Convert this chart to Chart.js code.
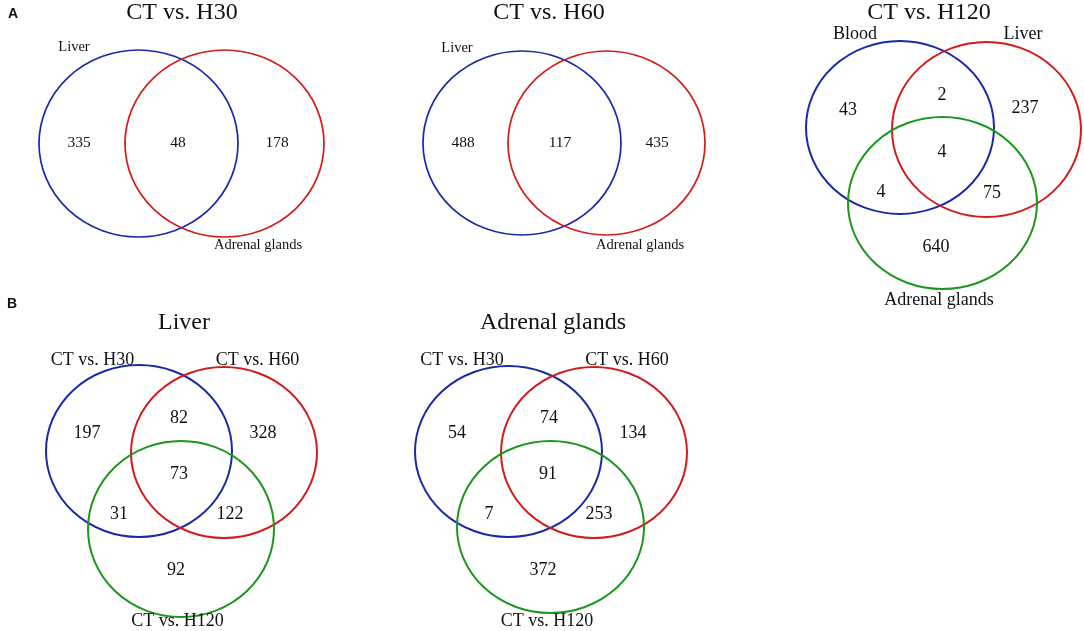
<!DOCTYPE html>
<html>
<head>
<meta charset="utf-8">
<title>Venn diagrams</title>
<script src="https://cdn.jsdelivr.net/npm/chart.js@4.4.1/dist/chart.umd.min.js"></script>
<style>
    html, body { margin: 0; padding: 0; background: #fff; }
    #wrap { width: 1084px; height: 631px; }
</style>
</head>
<body>
<div id="wrap"><canvas id="venn"></canvas></div>
<script>
// region counts
// 2-set order: only first, both, only second
// 3-set order: only first, first+second, only second, all three, first+third, second+third, only third
var panelTitles = ["CT vs. H30", "CT vs. H60", "CT vs. H120", "Liver", "Adrenal glands"];
var h30Sets = ["Liver", "Adrenal glands"];
var h30Counts = [335, 48, 178];
var h60Sets = ["Liver", "Adrenal glands"];
var h60Counts = [488, 117, 435];
var h120Sets = ["Blood", "Liver", "Adrenal glands"];
var h120Counts = [43, 2, 237, 4, 4, 75, 640];
var liverSets = ["CT vs. H30", "CT vs. H60", "CT vs. H120"];
var liverCounts = [197, 82, 328, 73, 31, 122, 92];
var adrenalSets = ["CT vs. H30", "CT vs. H60", "CT vs. H120"];
var adrenalCounts = [54, 74, 134, 91, 7, 253, 372];

// layout (page units, same as the axes)
var setColors = ["#1a2aa4", "#d21c1c", "#1c961c"];
var serif = "'Liberation Serif', 'Times New Roman', serif";

var layout = [
    {
        title: [182, 13],
        circles: [[138.5, 143.5, 99.5, 93.5], [224.5, 143.5, 99.5, 93.5]],
        setPos: [[74, 47], [258, 245]],
        regionPos: [[79, 143], [178, 143], [277, 143]],
        setSize: 14.5, numSize: 15.5, lineW: 1.7
    },
    {
        title: [549, 13],
        circles: [[522, 143, 99, 92], [606.5, 143, 98.5, 92]],
        setPos: [[457, 48], [640, 245]],
        regionPos: [[463, 143], [560, 143], [657, 143]],
        setSize: 14.5, numSize: 15.5, lineW: 1.7
    },
    {
        title: [929, 13],
        circles: [[900, 127.5, 94, 86.5], [986.5, 129.5, 94.5, 87.5], [942.5, 203, 94.5, 86]],
        setPos: [[855, 34], [1023, 34], [939, 300]],
        regionPos: [[848, 110], [942, 95], [1025, 108], [942, 152], [881, 192], [992, 193], [936, 247]],
        setSize: 18, numSize: 18, lineW: 2
    },
    {
        title: [184, 323],
        circles: [[139, 451, 93, 86], [224, 452.5, 93, 85.5], [181, 529, 93, 88]],
        setPos: [[92.5, 360], [257.5, 360], [177.5, 621]],
        regionPos: [[87, 433], [179, 418], [263, 433], [179, 474], [119, 514], [230, 514], [176, 570]],
        setSize: 18, numSize: 18, lineW: 2
    },
    {
        title: [553, 323],
        circles: [[508.5, 451.5, 93.5, 85.5], [594, 452.5, 93, 85.5], [550.5, 527, 93.5, 86]],
        setPos: [[462, 360], [627, 360], [547, 621]],
        regionPos: [[457, 433], [549, 418], [633, 433], [548, 474], [489, 514], [599, 514], [543, 570]],
        setSize: 18, numSize: 18, lineW: 2
    }
];

var panelSets = [h30Sets, h60Sets, h120Sets, liverSets, adrenalSets];
var panelCounts = [h30Counts, h60Counts, h120Counts, liverCounts, adrenalCounts];

var datasets = [];
for (var p = 0; p < layout.length; p++) {
    var pts = [];
    for (var i = 0; i < panelCounts[p].length; i++) {
        pts.push({ x: layout[p].regionPos[i][0], y: layout[p].regionPos[i][1], v: panelCounts[p][i] });
    }
    datasets.push({
        label: panelTitles[p],
        data: pts,
        pointRadius: 0,
        pointHoverRadius: 0,
        showLine: false
    });
}

function drawText(ctx, txt, x, y, font, align) {
    ctx.font = font;
    ctx.fillStyle = "#111";
    ctx.textAlign = align || "center";
    ctx.textBaseline = "middle";
    ctx.fillText(txt, x, y);
}

var vennPlugin = {
    id: "venn",
    afterDatasetsDraw: function (chart) {
        var ctx = chart.ctx;
        var xs = chart.scales.x, ys = chart.scales.y;
        ctx.save();
        for (var p = 0; p < layout.length; p++) {
            var L = layout[p];
            // set ellipses
            for (var c = 0; c < L.circles.length; c++) {
                var e = L.circles[c];
                var px = xs.getPixelForValue(e[0]);
                var py = ys.getPixelForValue(e[1]);
                var rx = Math.abs(xs.getPixelForValue(e[0] + e[2]) - px);
                var ry = Math.abs(ys.getPixelForValue(e[1] + e[3]) - py);
                ctx.beginPath();
                ctx.ellipse(px, py, rx, ry, 0, 0, Math.PI * 2);
                ctx.lineWidth = L.lineW;
                ctx.strokeStyle = setColors[c];
                ctx.stroke();
            }
            // title and set names
            drawText(ctx, panelTitles[p], xs.getPixelForValue(L.title[0]), ys.getPixelForValue(L.title[1]), "24px " + serif);
            for (var s = 0; s < panelSets[p].length; s++) {
                drawText(ctx, panelSets[p][s], xs.getPixelForValue(L.setPos[s][0]), ys.getPixelForValue(L.setPos[s][1]), L.setSize + "px " + serif);
            }
            // region counts at the dataset's points
            var meta = chart.getDatasetMeta(p);
            meta.data.forEach(function (pt, i) {
                drawText(ctx, String(chart.data.datasets[p].data[i].v), pt.x, pt.y, L.numSize + "px " + serif);
            });
        }
        // panel letters
        drawText(ctx, "A", xs.getPixelForValue(8), ys.getPixelForValue(14), "bold 14px 'Liberation Sans', Arial, sans-serif", "left");
        drawText(ctx, "B", xs.getPixelForValue(7), ys.getPixelForValue(304), "bold 14px 'Liberation Sans', Arial, sans-serif", "left");
        ctx.restore();
    }
};

var vennChart = new Chart(document.getElementById("venn"), {
    type: "scatter",
    data: { datasets: datasets },
    options: {
        responsive: true,
        maintainAspectRatio: false,
        animation: false,
        layout: { padding: 0 },
        plugins: {
            legend: { display: false },
            tooltip: { enabled: false },
            title: { display: false }
        },
        scales: {
            x: { type: "linear", min: 0, max: 1084, display: false },
            y: { type: "linear", min: 0, max: 631, reverse: true, display: false }
        }
    },
    plugins: [vennPlugin]
});
</script>
</body>
</html>
